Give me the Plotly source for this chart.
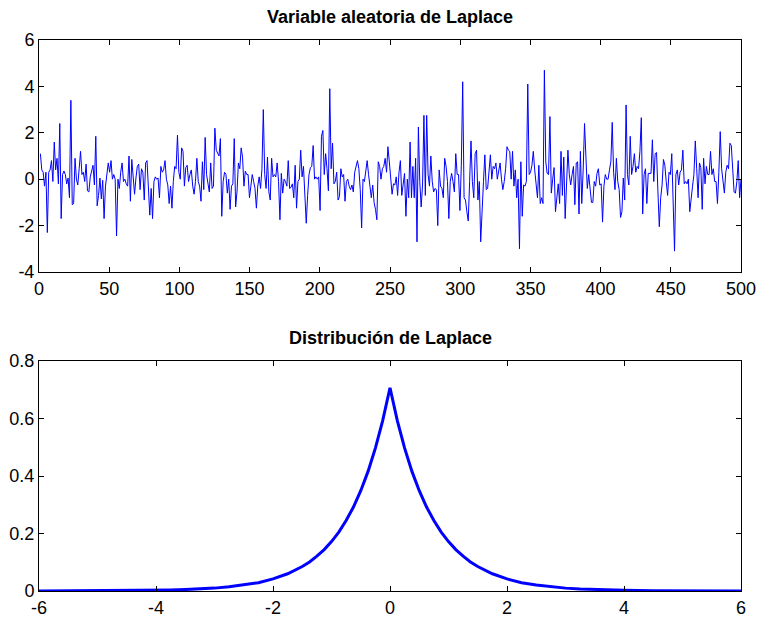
import numpy as np
import plotly.graph_objects as go
from plotly.subplots import make_subplots

# Top panel: 500 Laplace samples
samples = [
    1.1,0.4,0.3,-0.3,0.3,-2.3,0.3,0.4,0.8,-0.1,1.6,0.4,0.9,-0.2,2.4,-1.7,0.2,0.35,0.2,-0.2,0.05,-0.8,3.4,-1.1,-1.05,0.9,0,-0.25,0.45,1.2,0.2,0.3,-0.1,0.65,-0.5,-0.55,0.1,0.4,0.6,-0.25,1.85,-1.15,-0.7,0.05,-0.85,-0.05,-1.7,
    -0.3,0.1,0.7,0.3,0.8,0,0.2,0,-2.45,0,-0.4,0.3,0.7,-0.1,0,-0.2,-0.3,1.0,-0.95,0.85,0.05,-0.65,0.05,0.55,0.65,-0.45,0.45,0.3,-0.9,0.7,0.8,-0.55,-1.55,-0.4,-1.7,-0.1,0.1,0,0.05,-0.8,0.55,0.3,0.4,0.8,0,-0.25,-1.05,-0.3,-1.25,-0.1,0.55,
    0.45,1.9,0.3,0,1.35,1.2,-0.3,0.5,0.6,-0.1,0.2,0.4,-0.3,-0.65,-0.1,0.9,-0.1,-0.3,-0.95,0.75,-0.45,1.8,0.2,-0.25,-0.55,0.7,-0.4,-0.3,2.2,1.25,1.1,1.0,1.75,-1.6,-0.1,0.3,0.2,-0.6,0,-1.3,-0.3,-0.2,1.75,-1.2,-0.55,0.7,0.45,1.35,0.95,-0.3,0.35,0.2,
    0.2,-0.8,-0.3,0.2,-0.1,-0.4,-1.25,-0.3,0.1,-0.4,0.45,3.0,0.2,-0.4,0.95,-0.55,-0.9,0.9,0.1,0.2,0.1,0.7,-0.1,-1.75,0.25,-0.6,0,-0.1,-0.3,0.8,-0.4,-0.35,-0.2,-0.8,0.6,-1.25,-0.1,0,1.25,0.1,0.55,-0.7,-1.9,-0.7,0.2,0.5,0.55,1.45,0,0.1,0,
    0.1,-1.35,1.85,2.1,0.2,1.1,0.45,-0.5,3.9,0.45,1.55,-0.2,-0.1,0.3,-0.9,-0.75,0.45,0.1,0.2,-0.95,-0.1,0,-0.3,-0.45,-0.25,-0.55,0.3,0.6,0.8,0.45,-0.45,-2.1,0,-0.1,0.45,0.8,0.2,-0.2,-0.8,-0.25,-1.0,-1.3,-1.75,0.75,0.55,0,0.45,0.55,0.9,0.3,1.4,
    0.75,0.2,-0.65,-0.2,-0.25,0.1,-0.7,0.3,0.8,-0.7,-0.1,0.25,-1.6,0,-0.8,1.6,-0.8,0.55,-0.8,0.9,-2.7,2.25,-0.1,-1.2,-0.25,2.75,-0.7,2.75,0.2,-0.3,1.0,-0.1,-0.55,-0.4,-0.45,-2.0,0.4,-0.3,-0.4,-0.8,0.9,0.55,-0.1,-1.7,-0.1,0.25,-0.1,-0.55,1.1,0.2,0.2,
    -1.35,0.6,4.2,-0.8,-0.9,-1.4,-1.8,-0.1,1.65,-0.1,-0.8,1.1,1.25,-0.9,-0.1,-2.7,-1.0,-0.1,1.05,-0.45,-0.4,0.2,1.05,0,0.55,0.45,0.7,0,0.3,0.7,0,-0.45,-0.1,0.45,1.4,1.25,1.2,0,1.2,-0.3,0.4,-0.8,0,-3.0,0.75,-1.6,-0.25,-0.3,-0.1,4.1,
    0.2,0.3,0.6,1.2,0.4,-0.1,-0.8,0.6,-1.05,-0.8,-1.05,4.7,0.75,0.25,0.2,2.7,-0.6,0,0.5,-1.4,-0.9,-0.2,-1.05,1.2,-0.7,0.95,-1.7,-0.3,1.25,0.2,-0.25,0.2,0.55,-1.1,0.7,0.75,-1.5,1.2,-1.05,0.4,2.4,0.95,-0.4,0.2,-0.4,-1.0,-1.0,-0.1,-0.3,0.25,0.45,
    -0.25,-0.2,-1.85,-0.3,0.2,0,0,0.4,0.75,2.45,0.3,-0.45,0.9,-0.1,-0.45,-1.65,-1.4,0.05,-0.9,3.2,0.2,-0.25,1.85,0.2,0.55,1.1,0.3,0.55,0.45,1.2,2.65,-1.5,0.2,0.45,-1.05,0.25,0.25,0.25,1.7,-0.1,1.1,1.15,-0.55,-2.05,-0.8,-0.25,0.85,0.6,-0.1,-0.7,0.3,0.2,
    1.1,-1.25,-3.1,0.2,0.4,-0.25,0.3,0.4,1.25,-0.2,-0.1,-0.2,0,-1.4,-0.7,-0.3,0.2,1.65,0.45,-0.8,0.7,0.5,-1.3,0.9,-0.2,0.55,0.2,0.2,1.2,0.2,0.45,-0.1,-0.1,-1.05,0.3,2.05,0.45,0,-0.6,0.3,0.6,0.45,1.55,1.45,0.2,-0.55,-0.6,-0.1,0.8,-0.8,0,
]

# Bottom panel: Laplace density
pdf_x = [-6,-5.5,-5,-4.5,-4,-3.75,-3.5,-3.25,-3,-2.75,-2.5,-2.25,-2,-1.75,-1.5,-1.375,-1.25,-1.125,-1,-0.875,-0.75,-0.625,-0.5,-0.375,-0.25,-0.125,
         0,0.125,0.25,0.375,0.5,0.625,0.75,0.875,1,1.125,1.25,1.375,1.5,1.75,2,2.25,2.5,2.75,3,3.25,3.5,3.75,4,4.5,5,5.5,6]
pdf_y = [0.0001,0.0003,0.0006,0.0012,0.0025,0.0035,0.005,0.0071,0.010,0.0145,0.021,0.029,0.042,0.060,0.085,0.101,0.121,0.144,0.172,0.205,0.245,0.292,0.349,0.416,0.497,0.593,
         0.707,0.593,0.497,0.416,0.349,0.292,0.245,0.205,0.172,0.144,0.121,0.101,0.085,0.060,0.042,0.029,0.021,0.0145,0.010,0.0071,0.005,0.0035,0.0025,0.0012,0.0006,0.0003,0.0001]

top_xticks = [0,50,100,150,200,250,300,350,400,450,500]
top_yticks = [-4,-2,0,2,4,6]
bot_xticks = [-6,-4,-2,0,2,4,6]
bot_yticks = [0,0.2,0.4,0.6,0.8]

def lab(v):
    return "%g" % v

fig = make_subplots(rows=2, cols=1)
fig.add_trace(go.Scatter(x=np.linspace(1, 500, len(samples)), y=samples, mode="lines",
                         line=dict(color="#0000FF", width=1)), row=1, col=1)
fig.add_trace(go.Scatter(x=pdf_x, y=pdf_y, mode="lines",
                         line=dict(color="#0000FF", width=3)), row=2, col=1)

axis_common = dict(showgrid=False, zeroline=False, showline=True, linecolor="black", linewidth=1,
                   mirror="ticks", ticks="inside", ticklen=5, tickcolor="black", automargin=False,
                   tickfont=dict(family="Liberation Sans, Arial", size=18, color="black"))

fig.update_xaxes(range=[0,500], tickvals=top_xticks, ticktext=[lab(v) for v in top_xticks],
                 domain=[0,1], row=1, col=1, **axis_common)
fig.update_yaxes(range=[-4,6], tickvals=top_yticks, ticktext=[lab(v) for v in top_yticks],
                 domain=[0.579,1], row=1, col=1, **axis_common)
fig.update_xaxes(range=[-6,6], tickvals=bot_xticks, ticktext=[lab(v) for v in bot_xticks],
                 domain=[0,1], row=2, col=1, **axis_common)
fig.update_yaxes(range=[0,0.8], tickvals=bot_yticks, ticktext=[lab(v) for v in bot_yticks],
                 domain=[0,0.4174], row=2, col=1, **axis_common)

title_font = dict(family="Liberation Sans, Arial", size=18, color="black")
fig.add_annotation(text="<b>Variable aleatoria de Laplace</b>", xref="paper", yref="paper",
                   x=0.5, y=1.0, yshift=23, xanchor="center", yanchor="middle", showarrow=False, font=title_font)
fig.add_annotation(text="<b>Distribución de Laplace</b>", xref="paper", yref="paper",
                   x=0.5, y=0.4174, yshift=23, xanchor="center", yanchor="middle", showarrow=False, font=title_font)

fig.update_layout(width=758, height=617, showlegend=False,
                  margin=dict(l=39, r=17, t=40, b=26),
                  paper_bgcolor="white", plot_bgcolor="white")

fig.write_html("out.html")
